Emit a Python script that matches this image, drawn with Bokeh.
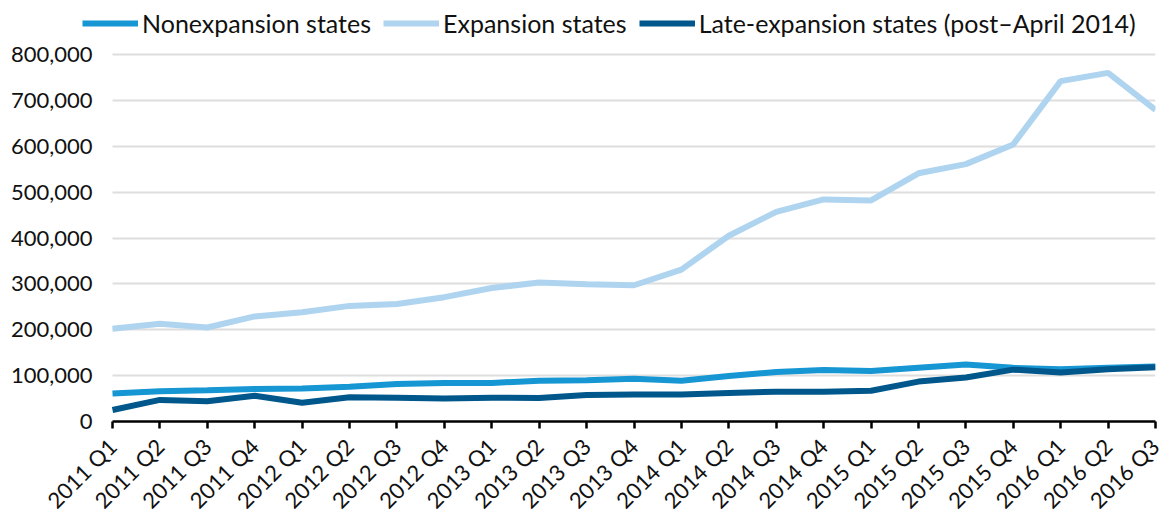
import math
from bokeh.plotting import figure
from bokeh.models import FixedTicker, NumeralTickFormatter, Legend, LegendItem, Range1d, BoxAnnotation
from bokeh.embed import file_html
from bokeh.resources import INLINE

quarters = ["2011 Q1", "2011 Q2", "2011 Q3", "2011 Q4",
            "2012 Q1", "2012 Q2", "2012 Q3", "2012 Q4",
            "2013 Q1", "2013 Q2", "2013 Q3", "2013 Q4",
            "2014 Q1", "2014 Q2", "2014 Q3", "2014 Q4",
            "2015 Q1", "2015 Q2", "2015 Q3", "2015 Q4",
            "2016 Q1", "2016 Q2", "2016 Q3"]

nonexpansion = [61000, 66000, 68000, 71000, 72000, 76000, 82000, 84000, 84000, 89000, 90000, 93000,
                89000, 99000, 108000, 112000, 110000, 117000, 124000, 117000, 114000, 117000, 120000]
expansion = [202000, 213000, 205000, 229000, 238000, 252000, 256000, 271000, 291000, 303000, 299000, 297000,
             331000, 405000, 457000, 484000, 482000, 541000, 561000, 604000, 742000, 760000, 679000]
late_expansion = [25000, 47000, 44000, 56000, 41000, 53000, 52000, 50000, 52000, 51000, 58000, 59000,
                  59000, 62000, 65000, 65000, 67000, 87000, 96000, 113000, 107000, 114000, 118000]

y_ticks = [0, 100000, 200000, 300000, 400000, 500000, 600000, 700000, 800000]

series_names = ["Nonexpansion states", "Expansion states", "Late-expansion states (post\u2013April 2014)"]
series_colors = ["#1696d2", "#afd4f0", "#00578b"]

xs = list(range(len(quarters)))
FONT = "Lato"

# layout (pixels)
FRAME_LEFT = 62        # frame extends left so the legend fits inside it
DATA_LEFT = 112        # where the first quarter sits
DATA_RIGHT = 1155      # where the last quarter sits
FRAME_H = 421          # frame from top of figure down to the x axis
TOP_GRID_PX = 367      # distance from axis to the 800,000 gridline

n = len(quarters) - 1
px_per_unit = (DATA_RIGHT - DATA_LEFT) / n
x_start = -(DATA_LEFT - FRAME_LEFT) / px_per_unit
y_end = 800000 * FRAME_H / TOP_GRID_PX

p = figure(frame_width=DATA_RIGHT - FRAME_LEFT, frame_height=FRAME_H,
           output_backend="svg", toolbar_location=None,
           x_range=Range1d(x_start, n), y_range=Range1d(0, y_end),
           min_border_left=FRAME_LEFT, min_border_right=1164 - DATA_RIGHT,
           min_border_top=0, min_border_bottom=517 - FRAME_H)
p.outline_line_color = None
p.background_fill_color = "white"
p.border_fill_color = "white"

# hide gridlines left of the first quarter
p.add_layout(BoxAnnotation(right=0, fill_color="white", fill_alpha=1, line_color=None, level="underlay"))

renderers = []
for vals, color in zip([nonexpansion, expansion, late_expansion], series_colors):
    r = p.line(xs, vals, line_color=color, line_width=6)
    renderers.append(r)

# x axis
p.xaxis.bounds = (0, n)
p.xaxis.ticker = FixedTicker(ticks=xs)
p.xaxis.major_label_overrides = {i: q for i, q in enumerate(quarters)}
p.xaxis.major_label_orientation = math.pi / 4
p.xaxis.major_label_text_font = FONT
p.xaxis.major_label_text_font_size = "22px"
p.xaxis.major_label_text_color = "#111111"
p.xaxis.axis_line_color = "black"
p.xaxis.axis_line_width = 2.5
p.xaxis.major_tick_line_color = "black"
p.xaxis.major_tick_line_width = 2.5
p.xaxis.major_tick_out = 7
p.xaxis.major_tick_in = 0
p.xaxis.minor_tick_line_color = None
p.xaxis.major_label_standoff = 14
p.xgrid.grid_line_color = None

# y axis
p.yaxis.ticker = FixedTicker(ticks=y_ticks)
p.yaxis.formatter = NumeralTickFormatter(format="0,0")
p.yaxis.axis_line_color = None
p.yaxis.major_tick_line_color = None
p.yaxis.minor_tick_line_color = None
p.yaxis.major_tick_out = 0
p.yaxis.major_tick_in = 0
p.yaxis.major_label_standoff = -(DATA_LEFT - FRAME_LEFT) + 20
p.yaxis.major_label_text_font = FONT
p.yaxis.major_label_text_font_size = "22px"
p.yaxis.major_label_text_color = "#111111"
p.ygrid.grid_line_color = "#dedede"
p.ygrid.grid_line_width = 2

legend = Legend(items=[LegendItem(label=nm, renderers=[r]) for nm, r in zip(series_names, renderers)],
                orientation="horizontal", location=(20, 383))
legend.label_text_font = FONT
legend.label_text_font_size = "25px"
legend.label_text_color = "#111111"
legend.glyph_width = 56
legend.label_standoff = 4
legend.spacing = 12
legend.padding = 0
legend.margin = 0
legend.border_line_color = None
legend.background_fill_alpha = 0
p.add_layout(legend)

open("out.html", "w").write(file_html(p, INLINE))
